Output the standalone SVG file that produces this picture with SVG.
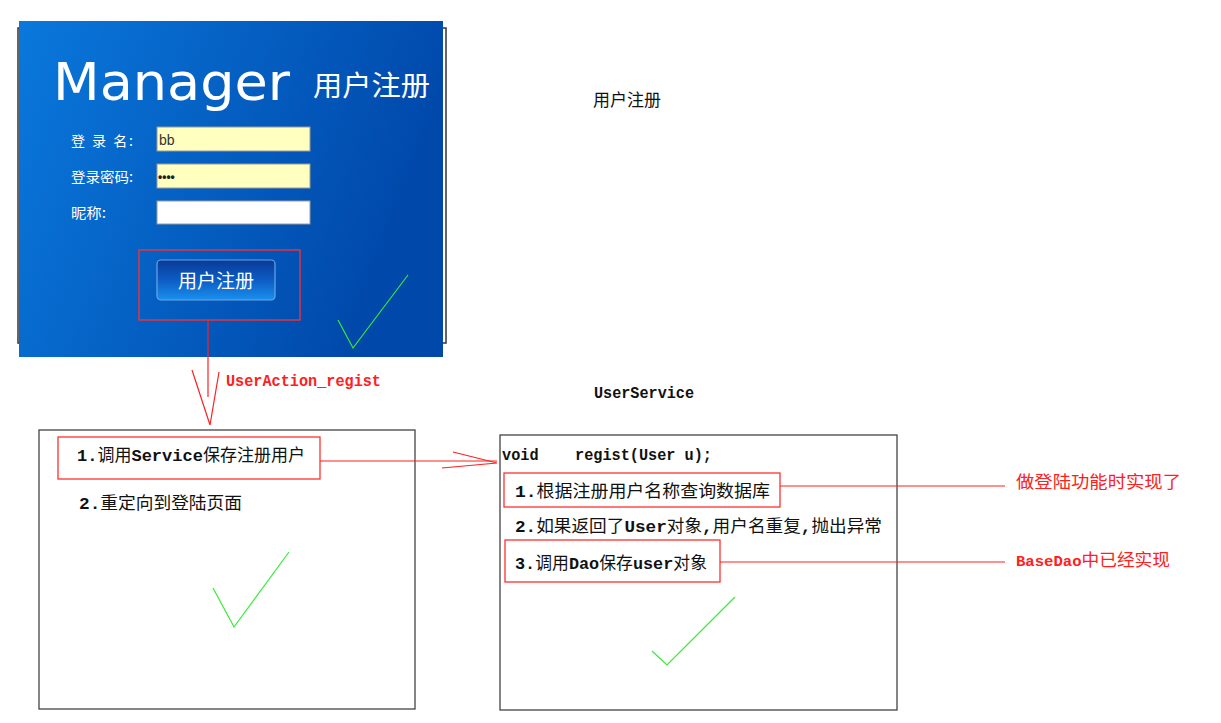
<svg xmlns="http://www.w3.org/2000/svg" width="1221" height="723" viewBox="0 0 1221 723">
<defs>
<linearGradient id="panel" x1="0" y1="0" x2="1" y2="0.3">
<stop offset="0" stop-color="#0a78dc"/>
<stop offset="1" stop-color="#0048aa"/>
</linearGradient>
<linearGradient id="btn" x1="0" y1="0" x2="0" y2="1">
<stop offset="0" stop-color="#0a3a98"/>
<stop offset="0.5" stop-color="#0c5cc4"/>
<stop offset="1" stop-color="#1a90ee"/>
</linearGradient>
<style>
.box{fill:#fff;stroke:#444;stroke-width:1.3}
.rbox{fill:none;stroke:#ff3030;stroke-width:1.3}
.rl{stroke:#ff2020;stroke-width:1.2;fill:none}
.chk{fill:none;stroke:#33ee33;stroke-width:1.2}
.t{font-family:"Noto Sans CJK SC","Liberation Sans",sans-serif;font-size:17px;fill:#111}
.m{font-family:"Liberation Mono",monospace;font-weight:bold}
.w{font-family:"Noto Sans CJK SC","Liberation Sans",sans-serif;fill:#fff}
.red{fill:#ff2020}
</style>
</defs>

<g id="login-panel">
<rect x="18" y="28" width="428" height="315" fill="none" stroke="#333" stroke-width="1.5"/>
<rect x="19" y="21" width="424" height="336" fill="url(#panel)"/>
<text x="53" y="100" class="w" style="font-family:'DejaVu Sans','Liberation Sans',sans-serif" font-size="52" textLength="237" lengthAdjust="spacingAndGlyphs">Manager</text>
<text x="313" y="96" class="w" font-size="28" textLength="117" lengthAdjust="spacingAndGlyphs">用户注册</text>
<text x="71" y="146" class="w" font-size="14" textLength="62" lengthAdjust="spacing">登 录 名:</text>
<text x="71" y="182" class="w" font-size="14" textLength="62" lengthAdjust="spacingAndGlyphs">登录密码:</text>
<text x="71" y="218" class="w" font-size="14" textLength="35" lengthAdjust="spacingAndGlyphs">昵称:</text>
<rect x="157" y="127" width="153" height="24" fill="#ffffc0" stroke="#9a9a9a"/>
<rect x="157" y="164" width="153" height="24" fill="#ffffc0" stroke="#9a9a9a"/>
<rect x="157" y="201" width="153" height="23" fill="#fff" stroke="#9a9a9a"/>
<text x="159" y="145" font-family="Liberation Sans,sans-serif" font-size="14" fill="#333">bb</text>
<text x="158" y="181" font-family="Liberation Sans,sans-serif" font-size="12" font-weight="bold" fill="#222">••••</text>
<rect x="157" y="260" width="118" height="40" rx="4" fill="url(#btn)" stroke="#6aa6e8" stroke-width="1.2"/>
<text x="216" y="288" class="w" font-size="19" text-anchor="middle">用户注册</text>
<rect x="139" y="250" width="161" height="70" class="rbox"/>
<polyline points="338,320 353,348 408,275" class="chk" stroke="#22cc44"/>
</g>

<text id="title" x="593" y="106" class="t" font-size="16">用户注册</text>

<g id="action-box">
<rect x="39" y="430" width="376" height="279" class="box"/>
<rect x="58" y="437" width="262" height="42" class="rbox"/>
<text x="77" y="461" class="t" textLength="228" lengthAdjust="spacingAndGlyphs"><tspan class="m">1.</tspan>调用<tspan class="m">Service</tspan>保存注册用户</text>
<text x="79" y="509" class="t" textLength="163" lengthAdjust="spacingAndGlyphs"><tspan class="m">2.</tspan>重定向到登陆页面</text>
<polyline points="213,588 234,627 289,552" class="chk"/>
</g>

<g id="service-box">
<text x="594" y="398" class="t m" font-size="14" textLength="100" lengthAdjust="spacingAndGlyphs">UserService</text>
<rect x="500" y="435" width="397" height="275" class="box"/>
<text x="502" y="460" class="t m" font-size="14" xml:space="preserve" textLength="210" lengthAdjust="spacingAndGlyphs">void    regist(User u);</text>
<rect x="504" y="473" width="276" height="34" class="rbox"/>
<text x="515" y="497" class="t" textLength="255" lengthAdjust="spacingAndGlyphs"><tspan class="m">1.</tspan>根据注册用户名称查询数据库</text>
<text x="515" y="532" class="t" textLength="367" lengthAdjust="spacingAndGlyphs"><tspan class="m">2.</tspan>如果返回了<tspan class="m">User</tspan>对象<tspan class="m">,</tspan>用户名重复<tspan class="m">,</tspan>抛出异常</text>
<rect x="505" y="540" width="215" height="42" class="rbox"/>
<text x="515" y="569" class="t" textLength="192" lengthAdjust="spacingAndGlyphs"><tspan class="m">3.</tspan>调用<tspan class="m">Dao</tspan>保存<tspan class="m">user</tspan>对象</text>
<polyline points="652,651 667,665 735,597" class="chk"/>
</g>

<g id="notes">
<text x="1016" y="488" class="t red" font-size="18" textLength="165" lengthAdjust="spacingAndGlyphs">做登陆功能时实现了</text>
<text x="1016" y="566" class="t red" font-size="18" textLength="154" lengthAdjust="spacingAndGlyphs"><tspan class="m" font-size="15">BaseDao</tspan>中已经实现</text>
<text x="226" y="386" class="t red m" font-size="14" textLength="155" lengthAdjust="spacingAndGlyphs">UserAction_regist</text>
</g>

<g id="connectors">
<line x1="208" y1="320" x2="208" y2="397" class="rl"/>
<polyline points="192,370 210,425 219,372" class="rl"/>
<line x1="320" y1="461" x2="497" y2="461" class="rl"/>
<polyline points="453,452 497,463 442,468" class="rl"/>
<line x1="780" y1="486" x2="1005" y2="486" class="rl"/>
<line x1="720" y1="562" x2="1005" y2="562" class="rl"/>
</g>
</svg>
